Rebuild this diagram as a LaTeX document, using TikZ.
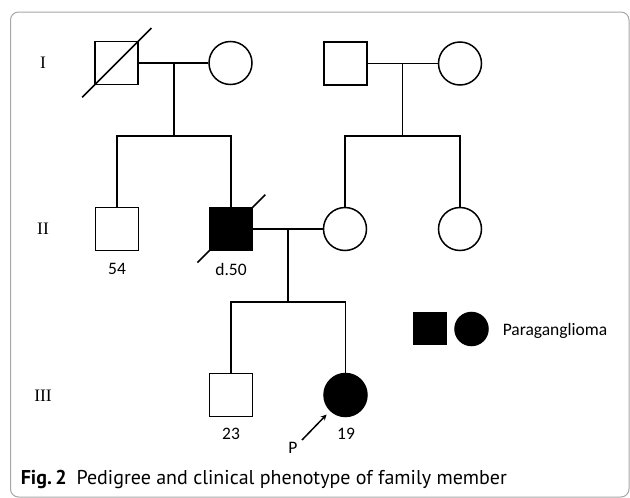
\documentclass[tikz,border=0pt]{standalone}
\usepackage{fontspec}
\setmainfont{Liberation Serif}
\newfontfamily\lblfont{Carlito}
\newfontfamily\capfont{PT Sans}
\usepackage{tikz}
\usetikzlibrary{arrows}
\usetikzlibrary{shapes}
\tikzset{
  male/.style={draw, rectangle, minimum width=43pt, minimum height=43pt, inner sep=0pt, line width=1.5pt},
  female/.style={draw, circle, minimum size=43pt, inner sep=0pt, line width=1.5pt},
  affected/.style={fill=black},
  gen/.style={font=\fontsize{17.5}{17.5}\selectfont},
  lbl/.style={font=\lblfont\fontsize{17.5}{17.5}\selectfont},
}

\begin{document}
\begin{tikzpicture}[x=1pt, y=-1pt, line width=1.5pt]
            \useasboundingbox (0, 0) rectangle (630, 498);
            \draw[gray!70, line width=1pt, rounded corners=8pt] (10.5, 12) rectangle (629, 497);

            % generation labels
            \draw (43, 63) node[gen] (gI) {I};
            \draw (43, 229) node[gen] (gII) {II};
            \draw (43, 396) node[gen] (gIII) {III};

            % generation I
            \draw (116.5, 63) node[male] (I1) {};
            \draw (230.5, 63) node[female] (I2) {};
            \draw (345.5, 63.5) node[male] (I3) {};
            \draw (460, 63.5) node[female] (I4) {};

            % generation II
            \draw (117, 229) node[male] (II1) {};
            \draw (231, 229) node[male, affected] (II2) {};
            \draw (345, 229) node[female] (II3) {};
            \draw (460, 229) node[female] (II4) {};

            % generation III
            \draw (231, 395) node[male] (III1) {};
            \draw (345.5, 395) node[female, affected] (III2) {};

            % deceased
            \draw[shorten <=-17pt, shorten >=-18pt] (I1.south west) -- (I1.north east);
            \draw[shorten <=-16pt, shorten >=-17pt] (II2.south west) -- (II2.north east);

            % marriages and sibships
            \coordinate (m1) at (174, 63);
            \coordinate (s1) at (174, 136);
            \coordinate (m2) at (402.5, 63.5);
            \coordinate (s2) at (402.5, 136);
            \coordinate (m3) at (288, 229);
            \coordinate (s3) at (288, 302);

            \draw (I1) -- (I2);
            \draw (I3) -- (I4);
            \draw (II2) -- (II3);
            \draw (m1) -- (s1);
            \draw (m2) -- (s2);
            \draw (m3) -- (s3);
            \draw (II1) |- (s1) -| (II2);
            \draw (II3) |- (s2) -| (II4);
            \draw (III1) |- (s3) -| (III2);

            % ages
            \draw (117, 269) node[lbl] (a54) {54};
            \draw (231, 269) node[lbl] (d50) {d.50};
            \draw (231, 434) node[lbl] (a23) {23};
            \draw (346, 434) node[lbl] (a19) {19};

            % proband
            \draw (293, 448) node[lbl] (P) {P};
            \coordinate (pt) at (302, 440);
            \draw[-stealth, line width=1.5pt, shorten >=5pt] (pt) -- (III2);

            % legend
            \draw (430, 328.5) node[draw, fill=black, minimum width=33pt, minimum height=31pt, inner sep=0pt] (Lsq) {};
            \draw (471.5, 329) node[draw, circle, fill=black, minimum size=33pt, inner sep=0pt] (Lci) {};
            \draw (502, 331) node[lbl, anchor=west, inner sep=0pt] (Lt) {Paraganglioma};

            % caption
            \draw (20, 484) node[anchor=base west, inner sep=0pt, font=\capfont\fontsize{20}{20}\selectfont] (cap) {\textbf{Fig.\,2}\enspace Pedigree and clinical phenotype of family member};
        \end{tikzpicture}
\end{document}
